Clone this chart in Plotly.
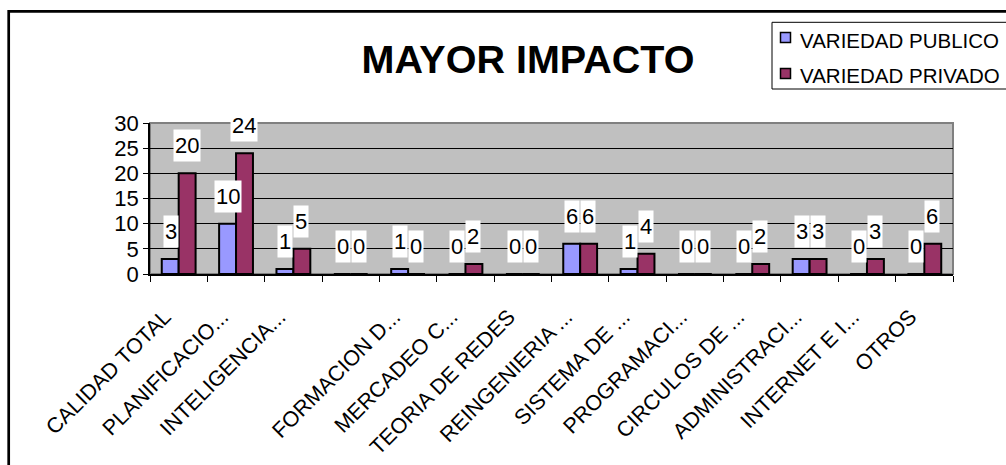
import plotly.graph_objects as go

# ---- data ----
categories = ["CALIDAD TOTAL", "PLANIFICACIO...", "INTELIGENCIA...", " ",
              "FORMACION D...", "MERCADEO C...", "TEORIA DE REDES", "REINGENIERIA ...",
              "SISTEMA DE ...", "PROGRAMACI...", "CIRCULOS DE ...", "ADMINISTRACI...",
              "INTERNET E I...", "OTROS"]
publico = [3, 10, 1, 0, 1, 0, 0, 6, 1, 0, 0, 3, 0, 0]
privado = [20, 24, 5, 0, 0, 2, 0, 6, 4, 0, 2, 3, 3, 6]
series_names = ["VARIEDAD PUBLICO", "VARIEDAD PRIVADO"]
title_text = "MAYOR IMPACTO"
y_ticks = [0, 5, 10, 15, 20, 25, 30]

# ---- style ----
W, H = 1006, 465
L, R, T, B = 150, 53, 123, 191
PW, PH = W - L - R, H - T - B
FONT = "Liberation Sans, Arial, sans-serif"
C_PUB, C_PRIV = "#9999FF", "#993366"
BARGAP = 0.41


def px2x(px):
    return (px - L) / PW


def py2y(py):
    return (H - B - py) / PH


fig = go.Figure()
fig.add_trace(go.Bar(x=categories, y=publico, name=series_names[0], marker_color=C_PUB,
                     marker_line=dict(color="black", width=2), showlegend=False))
fig.add_trace(go.Bar(x=categories, y=privado, name=series_names[1], marker_color=C_PRIV,
                     marker_line=dict(color="black", width=2), showlegend=False))

# data labels with white boxes
shift = 8
annotations = []
for vals, sx in ((publico, -shift), (privado, shift)):
    for c, v in zip(categories, vals):
        annotations.append(dict(x=c, y=v, xref="x", yref="y", text=str(v), showarrow=False,
                                xshift=sx, yshift=11, yanchor="bottom", xanchor="center",
                                bgcolor="white", borderpad=1, height=29,
                                font=dict(family=FONT, size=22, color="black")))

# manual legend
shapes = []
leg_rows = [(37.5, 40, C_PUB, series_names[0]), (73.5, 75, C_PRIV, series_names[1])]
shapes.append(dict(type="rect", xref="paper", yref="paper", x0=px2x(772), x1=px2x(1030),
                   y0=py2y(89), y1=py2y(22.3), line=dict(color="black", width=1),
                   fillcolor="white", layer="above"))
for my, ty, col, name in leg_rows:
    shapes.append(dict(type="rect", xref="paper", yref="paper", x0=px2x(780.5), x1=px2x(790.5),
                       y0=py2y(my + 5), y1=py2y(my - 5), fillcolor=col,
                       line=dict(color="black", width=1.5), layer="above"))
    annotations.append(dict(x=px2x(798), y=py2y(ty), xref="paper", yref="paper", text=name,
                            showarrow=False, xanchor="left", yanchor="middle",
                            font=dict(family=FONT, size=20.5, color="black")))

# plot area border (grey) and outer chart frame
shapes.append(dict(type="rect", xref="paper", yref="paper", x0=0, x1=1, y0=0, y1=1,
                   line=dict(color="#808080", width=2), layer="below"))
shapes.append(dict(type="rect", xref="paper", yref="paper", x0=px2x(8.7), x1=px2x(1040),
                   y0=py2y(500), y1=py2y(11.3), line=dict(color="black", width=2.7),
                   layer="above"))

fig.update_layout(
    width=W, height=H,
    margin=dict(l=L, r=R, t=T, b=B, autoexpand=False),
    paper_bgcolor="white", plot_bgcolor="#C0C0C0",
    barmode="group", bargap=BARGAP, bargroupgap=0,
    showlegend=False,
    title=dict(text="<b>" + title_text + "</b>", x=528 / W, xref="container", xanchor="center",
               y=1 - 59 / H, yref="container", yanchor="middle",
               font=dict(family=FONT, size=39.5, color="black")),
    font=dict(family=FONT, color="black"),
    annotations=annotations, shapes=shapes,
)
fig.update_xaxes(type="category", tickangle=-45, tickson="boundaries", ticks="outside",
                 ticklen=6, tickcolor="black", showline=True, linecolor="black", linewidth=1.5,
                 showgrid=False, ticklabelstandoff=20, ticklabelshift=-14,
                 tickfont=dict(family=FONT, size=21.5, color="black"))
fig.update_yaxes(range=[0, 30], tickvals=y_ticks, ticks="outside", ticklen=5, tickcolor="black",
                 showline=True, linecolor="black", linewidth=1.5, showgrid=True,
                 gridcolor="black", gridwidth=1, zeroline=False,
                 tickfont=dict(family=FONT, size=22, color="black"))

fig.write_html("out.html")
